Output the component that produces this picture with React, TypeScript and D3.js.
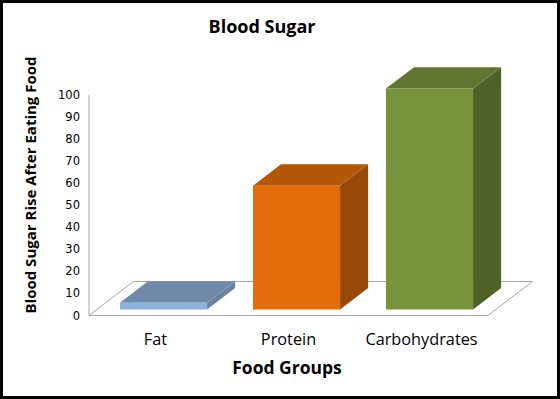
import React from 'react';
import * as d3 from 'd3';

const categories = ['Fat', 'Protein', 'Carbohydrates'];
const values = [3, 56, 100];
const yTicks = [0, 10, 20, 30, 40, 50, 60, 70, 80, 90, 100];
const frontColors = ['#8fb2dd', '#e46c0a', '#77933c'];
const topColors = ['#7089ab', '#b35808', '#5f7530'];
const sideColors = ['#6a819f', '#984807', '#4f6228'];

const W = 560;
const H = 399;
const floorLeft = 89;
const floorRight = 488;
const floorFront = 315.5;
const depthX = 44.5;
const depthY = -34;
// bars sit between these fractions of the floor depth
const barFront = 0.18;
const barBack = 0.81;

const font = '"Open Sans", "Noto Sans", sans-serif';

const App: React.FC = () => {
  const x = d3.scaleBand<string>()
    .domain(categories)
    .range([floorLeft, floorRight])
    .paddingInner(0.345)
    .paddingOuter(0.1725);
  const xLabel = d3.scaleBand<string>().domain(categories).range([floorLeft, floorRight]);
  const y = d3.scaleLinear().domain([0, 100]).range([floorFront, 94.7]);

  const p = (px: number, py: number, f: number) =>
    `${px + f * depthX},${py + f * depthY}`;

  const floor = [
    p(floorLeft, floorFront, 0),
    p(floorRight, floorFront, 0),
    p(floorRight, floorFront, 1),
    p(floorLeft, floorFront, 1),
  ].join(' ');

  return (
    <svg width={W} height={H} style={{ position: 'absolute', left: 0, top: 0 }}>
      <rect x={0} y={0} width={W} height={H} fill="#fff" />
      <rect x={1.5} y={1.5} width={W - 3} height={H - 3} fill="none" stroke="#000" strokeWidth={3} />

      <text x={262} y={33} textAnchor="middle" fontFamily={font} fontWeight="bold" fontSize={18} fill="#000">
        Blood Sugar
      </text>

      {/* floor and value axis */}
      <polygon points={floor} fill="none" stroke="#a6a6a6" strokeWidth={1} />
      <line x1={floorLeft} x2={floorLeft} y1={y(0)} y2={y(100)} stroke="#a6a6a6" />
      {yTicks.map(t => (
        <text key={t} x={80} y={y(t)} dy="0.35em" textAnchor="end" fontFamily='"DejaVu Sans", Verdana, sans-serif' fontSize={11.5} fill="#000">
          {t}
        </text>
      ))}

      {categories.map((c, i) => {
        const x0 = x(c) as number;
        const x1 = x0 + x.bandwidth();
        const yb = floorFront;
        const yt = y(values[i]);
        const front = [p(x0, yt, barFront), p(x1, yt, barFront), p(x1, yb, barFront), p(x0, yb, barFront)].join(' ');
        const top = [p(x0, yt, barFront), p(x1, yt, barFront), p(x1, yt, barBack), p(x0, yt, barBack)].join(' ');
        const side = [p(x1, yt, barFront), p(x1, yt, barBack), p(x1, yb, barBack), p(x1, yb, barFront)].join(' ');
        return (
          <g key={c}>
            <polygon points={side} fill={sideColors[i]} />
            <polygon points={top} fill={topColors[i]} />
            <polygon points={front} fill={frontColors[i]} />
          </g>
        );
      })}

      {categories.map(c => (
        <text key={c} x={(xLabel(c) as number) + xLabel.bandwidth() / 2} y={339} dy="0.35em" textAnchor="middle" fontFamily={font} fontSize={16.3} fill="#000">
          {c}
        </text>
      ))}

      <text x={287} y={368} dy="0.35em" textAnchor="middle" fontFamily={font} fontWeight="bold" fontSize={17.5} fill="#000">
        Food Groups
      </text>
      <text transform="translate(31,185) rotate(-90)" dy="0.35em" textAnchor="middle" fontFamily={font} fontWeight="bold" fontSize={15} fill="#000">
        Blood Sugar Rise After Eating Food
      </text>
    </svg>
  );
};

export default App;
